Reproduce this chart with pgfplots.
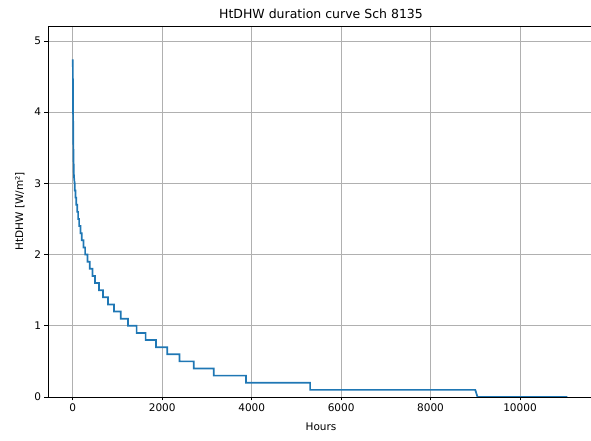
\documentclass[border=0pt]{standalone}
\usepackage{fontspec}
\setmainfont{DejaVu Sans}
\usepackage{pgfplots}
\pgfplotsset{compat=1.18}
\definecolor{mplblue}{HTML}{1F77B4}
\definecolor{gridgray}{HTML}{B0B0B0}
\begin{document}
\begin{tikzpicture}
\begin{axis}[
    scale only axis,
    width=546pt, height=371pt,
    xmin=-555, xmax=11655,
    ymin=0, ymax=5.21,
    xtick={0,2000,4000,6000,8000,10000},
    ytick={0,1,2,3,4,5},
    scaled ticks=false,
    /pgf/number format/1000 sep={},
    /pgf/number format/assume math mode=true,
    tick label style={font=\fontsize{10.5}{12}\selectfont},
    label style={font=\fontsize{10.5}{12}\selectfont},
    title style={font=\fontsize{12.5}{14}\selectfont, yshift=-2pt},
    title={HtDHW duration curve Sch 8135},
    xlabel={Hours},
    ylabel={HtDHW [W/m²]},
    xlabel style={yshift=-4pt},
    ylabel style={yshift=3pt},
    grid=major,
    major grid style={gridgray, line width=0.8pt},
    tick align=outside,
    tick pos=left,
    major tick length=3.5pt,
    axis line style={line width=0.8pt},
    every tick/.style={black, line width=0.8pt},
]
\addplot[mplblue, line width=1.7pt] coordinates {
    (0,4.74) (3,4.3) (6,4.0) (10,3.65) (15,3.37) (25,3.1) (40,3.0)
    (45,3.0) (45,2.9) (60,2.9) (60,2.8) (75,2.8) (75,2.7)
    (97,2.7) (97,2.6) (119,2.6) (119,2.5) (141,2.5) (141,2.4)
    (171,2.4) (171,2.3) (201,2.3) (201,2.2) (238,2.2) (238,2.1)
    (275,2.1) (275,2.0) (327,2.0) (327,1.9) (379,1.9) (379,1.8)
    (439,1.8) (439,1.7) (498,1.7) (498,1.6) (587,1.6) (587,1.5)
    (676,1.5) (676,1.4) (788,1.4) (788,1.3) (922,1.3) (922,1.2)
    (1070,1.2) (1070,1.1) (1234,1.1) (1234,1.0) (1427,1.0) (1427,0.9)
    (1628,0.9) (1628,0.8) (1860,0.8) (1860,0.7) (2111,0.7) (2111,0.6)
    (2386,0.6) (2386,0.5) (2705,0.5) (2705,0.4) (3151,0.4) (3151,0.3)
    (3873,0.3) (3873,0.2) (5307,0.2) (5307,0.1) (9000,0.1) (9050,0.0)
    (11060,0.0)
};
\end{axis}
\pgfresetboundingbox
\path (-48pt,-44pt) rectangle (543pt,397pt);
\end{tikzpicture}
\end{document}
